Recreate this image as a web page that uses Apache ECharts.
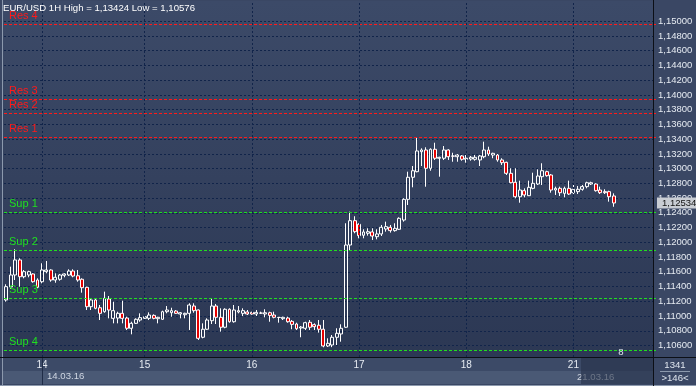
<!DOCTYPE html>
<html><head><meta charset="utf-8">
<script src="https://cdn.jsdelivr.net/npm/echarts@6/dist/echarts.min.js"></script>
<style>html,body{margin:0;padding:0;background:#33405c;}#c{width:696px;height:386px;}</style>
</head><body><div id="c"></div>
<script>
// ---- data ----
const opens = [
1.11218,1.11395,1.11557,1.11761,1.11534,1.11557,1.11571,1.11489,1.11466,1.11602,
1.11625,1.11489,1.11499,1.11553,1.11557,1.11611,1.11547,1.11499,1.11390,1.11127,
1.11218,1.11113,1.11059,1.11232,1.10969,1.10973,1.11037,1.10973,1.10834,1.10901,
1.10946,1.10969,1.10969,1.11009,1.10964,1.10956,1.11059,1.11045,1.11068,1.11028,
1.11018,1.11037,1.11136,1.11082,1.10712,1.10821,1.10937,1.11136,1.10983,1.10848,
1.11092,1.10923,1.11055,1.11037,1.11055,1.11050,1.11028,1.11041,1.11028,1.11045,
1.11014,1.10983,1.10964,1.10973,1.10928,1.10892,1.10838,1.10834,1.10915,1.10883,
1.10875,1.10821,1.10594,1.10607,1.10712,1.10757,1.10848,1.11964,1.12294,1.12245,
1.12096,1.12123,1.12141,1.12077,1.12114,1.12181,1.12204,1.12159,1.12177,1.12303,
1.12584,1.12883,1.12959,1.13230,1.13253,1.13005,1.13263,1.13141,1.13141,1.13253,
1.13172,1.13162,1.13172,1.13127,1.13131,1.13127,1.13118,1.13162,1.13253,1.13185,
1.13185,1.13118,1.13086,1.12937,1.12815,1.12619,1.12701,1.12633,1.12733,1.12792,
1.12891,1.12959,1.12914,1.12710,1.12733,1.12665,1.12733,1.12674,1.12688,1.12720,
1.12756,1.12792,1.12792,1.12710,1.12688,1.12688,1.12629];
const closes = [
1.11399,1.11557,1.11761,1.11534,1.11602,1.11602,1.11466,1.11390,1.11625,1.11625,
1.11489,1.11526,1.11557,1.11571,1.11611,1.11543,1.11489,1.11385,1.11127,1.11218,
1.11105,1.11037,1.11241,1.11082,1.11073,1.11037,1.10969,1.10834,1.10901,1.10956,
1.10978,1.10991,1.11014,1.10969,1.10983,1.11059,1.11082,1.11073,1.11037,1.11045,
1.11037,1.11150,1.11073,1.10698,1.10821,1.10946,1.11136,1.10983,1.10848,1.11092,
1.10923,1.11082,1.11073,1.11073,1.11028,1.11028,1.11050,1.11039,1.11045,1.11009,
1.10983,1.10980,1.10983,1.10923,1.10887,1.10828,1.10851,1.10910,1.10848,1.10856,
1.10821,1.10594,1.10630,1.10712,1.10766,1.10834,1.11964,1.12294,1.12145,1.12091,
1.12141,1.12145,1.12086,1.12114,1.12204,1.12213,1.12159,1.12191,1.12326,1.12584,
1.12883,1.12972,1.13240,1.13253,1.13005,1.13263,1.13141,1.13154,1.13253,1.13162,
1.13169,1.13185,1.13127,1.13141,1.13154,1.13154,1.13172,1.13253,1.13199,1.13208,
1.13118,1.13081,1.12937,1.12809,1.12619,1.12710,1.12643,1.12747,1.12801,1.12900,
1.12972,1.12905,1.12710,1.12733,1.12674,1.12733,1.12656,1.12720,1.12720,1.12756,
1.12809,1.12809,1.12701,1.12674,1.12674,1.12619,1.12534];
const lows = [
1.11195,1.11367,1.11489,1.11398,1.11512,1.11526,1.11452,1.11377,1.11444,1.11580,
1.11466,1.11452,1.11480,1.11526,1.11543,1.11526,1.11466,1.11317,1.11082,1.11082,
1.11092,1.10946,1.11045,1.10969,1.10901,1.10901,1.10901,1.10811,1.10752,1.10892,
1.10923,1.10956,1.10946,1.10956,1.10901,1.10946,1.11037,1.10991,1.11028,1.10969,
1.10969,1.10811,1.11045,1.10675,1.10698,1.10811,1.10892,1.10892,1.10788,1.10834,
1.10910,1.10910,1.11037,1.11000,1.11014,1.11018,1.11000,1.11028,1.10983,1.10923,
1.10969,1.10910,1.10946,1.10910,1.10821,1.10811,1.10712,1.10811,1.10811,1.10811,
1.10775,1.10576,1.10580,1.10578,1.10607,1.10652,1.10838,1.11896,1.12123,1.12055,
1.12055,1.12091,1.12032,1.12041,1.12086,1.12145,1.12132,1.12145,1.12168,1.12281,
1.12507,1.12747,1.12950,1.13036,1.12755,1.12972,1.13118,1.12891,1.13118,1.13118,
1.13094,1.13094,1.13108,1.13081,1.13108,1.13108,1.13036,1.13141,1.13172,1.13141,
1.13094,1.13050,1.12914,1.12801,1.12598,1.12538,1.12611,1.12629,1.12720,1.12778,
1.12778,1.12891,1.12674,1.12643,1.12629,1.12611,1.12643,1.12656,1.12656,1.12701,
1.12733,1.12778,1.12688,1.12656,1.12656,1.12552,1.12483];
const highs = [
1.11431,1.11670,1.11906,1.11784,1.11625,1.11615,1.11580,1.11512,1.11716,1.11747,
1.11634,1.11580,1.11571,1.11580,1.11634,1.11634,1.11625,1.11512,1.11398,1.11241,
1.11236,1.11150,1.11331,1.11272,1.11195,1.11059,1.11208,1.10991,1.10923,1.10969,
1.11037,1.11009,1.11050,1.11023,1.10991,1.11073,1.11136,1.11113,1.11082,1.11055,
1.11045,1.11173,1.11173,1.11089,1.10901,1.10969,1.11232,1.11164,1.11105,1.11105,
1.11105,1.11150,1.11136,1.11105,1.11082,1.11059,1.11082,1.11059,1.11092,1.11059,
1.11059,1.10987,1.10991,1.10991,1.10946,1.10910,1.10865,1.10923,1.10946,1.10901,
1.10946,1.10946,1.10698,1.10743,1.10834,1.10888,1.12259,1.12416,1.12354,1.12259,
1.12177,1.12191,1.12191,1.12177,1.12236,1.12281,1.12236,1.12259,1.12340,1.12598,
1.12959,1.13036,1.13424,1.13276,1.13290,1.13276,1.13352,1.13162,1.13307,1.13263,
1.13216,1.13199,1.13185,1.13185,1.13172,1.13185,1.13185,1.13366,1.13298,1.13216,
1.13199,1.13141,1.13094,1.13005,1.13005,1.12837,1.12733,1.12837,1.12945,1.12991,
1.13073,1.12972,1.12927,1.12756,1.12756,1.12756,1.12837,1.12801,1.12765,1.12778,
1.12823,1.12823,1.12801,1.12756,1.12720,1.12701,1.12665];
const slotCount = 146;                       // visible bars on the axis
const dayLabels = ['14','15','16','17','18','21'];
const dayIndex  = [8, 31, 55, 79, 103, 127];
const yTicks = [1.106,1.108,1.110,1.112,1.114,1.116,1.118,1.120,1.122,1.124,1.126,1.128,
                1.130,1.132,1.134,1.136,1.138,1.140,1.142,1.144,1.146,1.148,1.150];
const levelNames  = ['Res 4','Res 3','Res 2','Res 1','Sup 1','Sup 2','Sup 3','Sup 4'];
const levelValues = [1.14960,1.13941,1.13751,1.13424,1.12408,1.11892,1.11241,1.10530];
const lastPrice = 1.12534;
const yMin = 1.104443, yMax = 1.152614;

// ---- build ----
const FONT = 'Liberation Sans';
const cats = [];
for (let i = 0; i < slotCount; i++) cats.push('');
dayIndex.forEach((idx, k) => { cats[idx] = dayLabels[k]; });
const candles = opens.map((o, i) => [o, closes[i], lows[i], highs[i]]);
const fmt = v => v.toFixed(5).replace('.', ',');

const levelLines = levelNames.map((n, i) => {
  const c = n.startsWith('Res') ? '#ff1a1a' : '#1fe01f';
  return {
    yAxis: levelValues[i], name: n,
    lineStyle: {color: c, type: [3, 2], width: 1},
    label: {show: true, formatter: n, position: 'insideStartTop', color: c,
            fontFamily: FONT, fontSize: 11, distance: [5, 3]}
  };
});

const chart = echarts.init(document.getElementById('c'), null, {renderer: 'canvas'});
chart.setOption({
  animation: false,
  backgroundColor: '#33405c',
  title: {text: 'EUR/USD 1H High = 1,13424 Low = 1,10576', left: 3, top: 3, padding: 0,
          textStyle: {color: '#ffffff', fontSize: 9.6, fontWeight: 'normal', fontFamily: FONT}},
  grid: {left: 4, right: 40, top: 2, bottom: 29},
  xAxis: {type: 'category', data: cats, boundaryGap: true,
    axisLine: {show: false}, axisTick: {show: false},
    axisLabel: {interval: 0, color: '#e6ebf2', fontSize: 10, fontFamily: FONT, margin: 3},
    splitLine: {show: false}},
  yAxis: {type: 'value', position: 'right', min: yMin, max: yMax, scale: true,
    axisLine: {show: false},
    axisTick: {show: false, customValues: yTicks},
    axisLabel: {customValues: yTicks, formatter: fmt, color: '#e6ebf2', fontSize: 9.5,
                fontFamily: FONT, margin: 2, align: 'left'},
    splitLine: {show: true, lineStyle: {color: '#11244a', type: [2, 2], width: 1}}},
  graphic: [
    {type: 'rect', z: -20, shape: {x: 0, y: 0, width: 696, height: 386}, style: {fill: '#3a4764'}},
    {type: 'rect', z: -19, shape: {x: 3, y: 1, width: 650, height: 356},
     style: {fill: new echarts.graphic.LinearGradient(0, 0, 0, 1,
       [{offset: 0, color: '#3c4a68'}, {offset: 1, color: '#2c3854'}])}},
    {type: 'rect', z: -19, shape: {x: 3, y: 358, width: 650, height: 13}, style: {fill: '#3c4a67'}},
    {type: 'rect', z: -19, shape: {x: 3, y: 371, width: 650, height: 13}, style: {fill: '#4a5975'}},
    {type: 'line', z: -18, shape: {x1: 2.5, y1: 0, x2: 2.5, y2: 386}, style: {stroke: '#8c99ad', lineWidth: 1}},
    {type: 'line', z: -18, shape: {x1: 0, y1: 385.5, x2: 696, y2: 385.5}, style: {stroke: '#8c99ad', lineWidth: 1}},
    {type: 'line', z: 5, shape: {x1: 653.5, y1: 0, x2: 653.5, y2: 386}, style: {stroke: '#0c0f16', lineWidth: 1}},
    {type: 'line', z: 5, shape: {x1: 0, y1: 357.5, x2: 696, y2: 357.5}, style: {stroke: '#0c0f16', lineWidth: 1}},
    {type: 'line', z: 5, shape: {x1: 42.5, y1: 358, x2: 42.5, y2: 385}, style: {stroke: '#1f2c47', lineWidth: 1}},
    {type: 'text', z: 6, style: {text: '14.03.16', x: 47, y: 376.5, verticalAlign: 'middle',
       fill: '#cfd6e2', font: '9.6px "Liberation Sans"'}},
    {type: 'text', z: 6, style: {text: '21.03.16', x: 577, y: 377, verticalAlign: 'middle',
       fill: '#d0d6e0', font: '9.6px "Liberation Sans"'}},
    {type: 'rect', z: 7, shape: {x: 581, y: 358, width: 72, height: 26}, style: {fill: 'rgba(38,50,74,0.6)'}},
    {type: 'text', z: 6, style: {text: '1341', x: 675, y: 365, align: 'center', verticalAlign: 'middle',
       fill: '#dfe5ee', font: '9.6px "Liberation Sans"'}},
    {type: 'line', z: 6, shape: {x1: 660, y1: 371.5, x2: 690, y2: 371.5}, style: {stroke: '#8c99ad', lineWidth: 1}},
    {type: 'text', z: 6, style: {text: '>146<', x: 675, y: 378, align: 'center', verticalAlign: 'middle',
       fill: '#dfe5ee', font: '9.6px "Liberation Sans"'}},
    {type: 'text', z: 6, style: {text: '8', x: 621, y: 352, align: 'center', verticalAlign: 'middle',
       fill: '#dfe5ee', font: '9.6px "Liberation Sans"'}}
  ],
  series: [
    {type: 'candlestick', name: 'EURUSD', data: candles, barWidth: 3.4, z: 3,
     itemStyle: {color: 'rgba(0,0,0,0)', color0: '#e60000', borderColor: '#ffffff',
                 borderColor0: '#ffffff', borderColorDoji: '#ffffff', borderWidth: 1},
     markLine: {silent: true, symbol: 'none', animation: false, precision: 5, data: levelLines}},
    {type: 'line', name: 'days', data: [], z: 1,
     markLine: {silent: true, symbol: 'none', animation: false, label: {show: false},
       lineStyle: {color: '#11244a', type: [2, 2], width: 1},
       data: dayIndex.map(i => ({xAxis: i}))}},
    {type: 'line', name: 'last', data: [], z: 6,
     markLine: {silent: true, symbol: 'none', animation: false, precision: 5,
       lineStyle: {color: 'rgba(0,0,0,0)', width: 0.01},
       data: [{yAxis: lastPrice, label: {show: true, position: 'end', formatter: fmt(lastPrice),
          distance: 1, color: '#111', backgroundColor: '#c9cdd3', padding: [1, 2, 0, 5],
          fontFamily: FONT, fontSize: 9.5}}]}}
  ]
});
</script></body></html>
